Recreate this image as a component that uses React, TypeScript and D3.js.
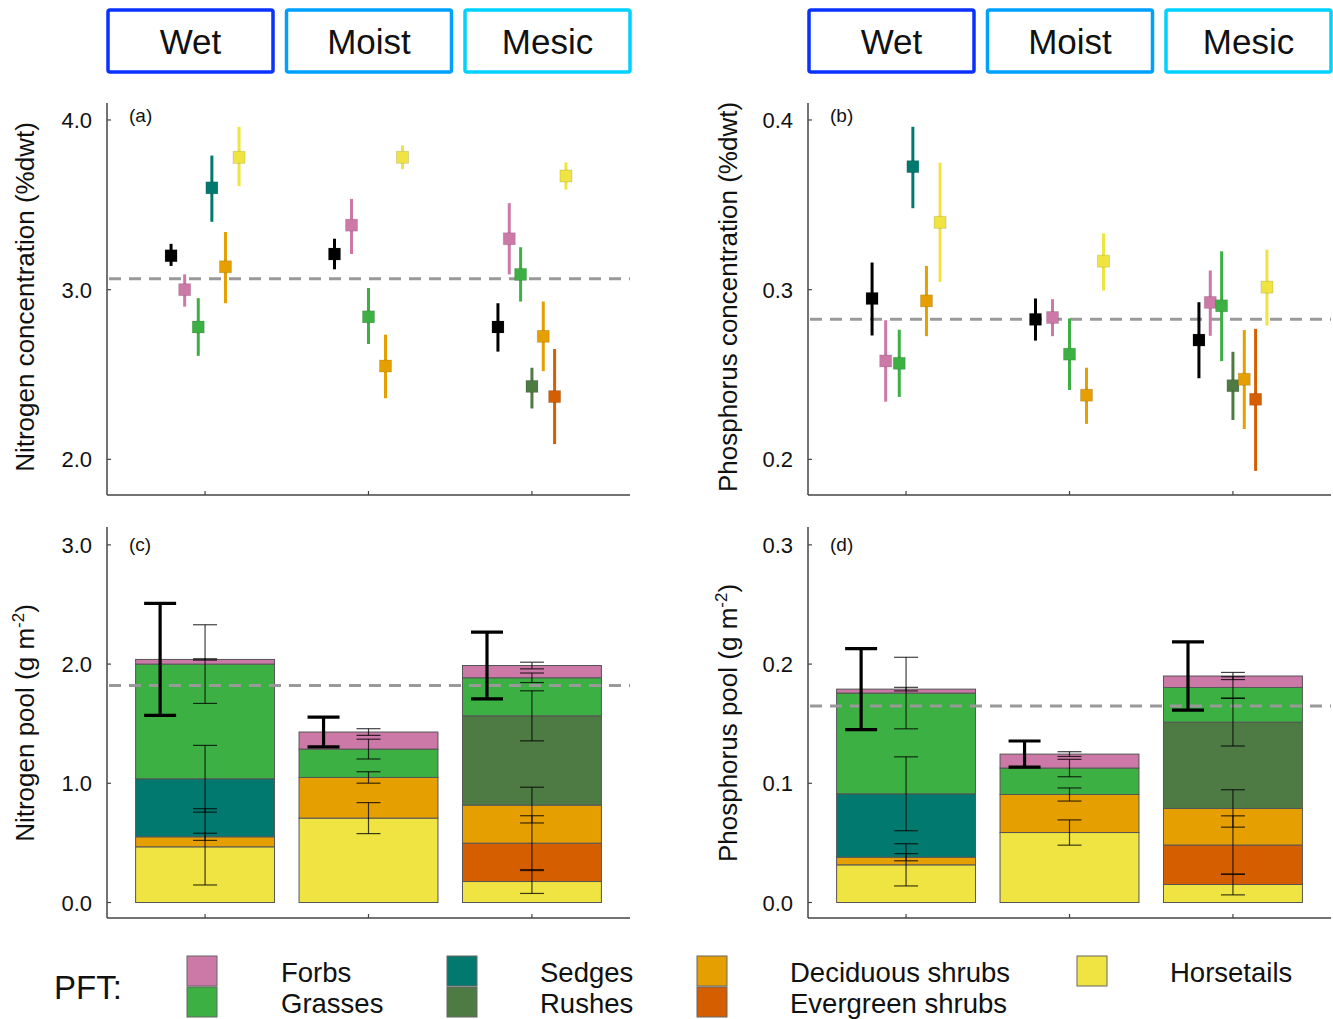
import React, { useRef, useEffect } from 'react';
import * as d3 from 'd3';

// sites and plant functional types
const sites = ['Wet', 'Moist', 'Mesic'];
const siteColors = ['#0a32ff', '#00a0ff', '#00d2ff'];

const pftColors: Record<string, string> = {
  Mean: '#000000',
  Forbs: '#cc79a7',
  Grasses: '#3cb043',
  Sedges: '#02796e',
  Rushes: '#4e7a44',
  'Deciduous shrubs': '#e69f00',
  'Evergreen shrubs': '#d55e00',
  Horsetails: '#f0e442',
};

// concentrations: [pft, mean, lower, upper]
const nConcWet = [
  ['Mean', 3.2, 3.14, 3.27],
  ['Forbs', 3.0, 2.9, 3.09],
  ['Grasses', 2.78, 2.61, 2.95],
  ['Sedges', 3.6, 3.4, 3.79],
  ['Deciduous shrubs', 3.135, 2.92, 3.34],
  ['Horsetails', 3.78, 3.61, 3.96],
];
const nConcMoist = [
  ['Mean', 3.21, 3.12, 3.3],
  ['Forbs', 3.38, 3.21, 3.535],
  ['Grasses', 2.84, 2.68, 3.01],
  ['Deciduous shrubs', 2.55, 2.36, 2.735],
  ['Horsetails', 3.78, 3.71, 3.85],
];
const nConcMesic = [
  ['Mean', 2.78, 2.635, 2.92],
  ['Forbs', 3.3, 3.09, 3.51],
  ['Grasses', 3.09, 2.93, 3.25],
  ['Rushes', 2.43, 2.3, 2.54],
  ['Deciduous shrubs', 2.725, 2.52, 2.93],
  ['Evergreen shrubs', 2.37, 2.09, 2.65],
  ['Horsetails', 3.67, 3.59, 3.75],
];
const nConcRef = 3.065;

const pConcWet = [
  ['Mean', 0.2948, 0.273, 0.316],
  ['Forbs', 0.258, 0.234, 0.282],
  ['Grasses', 0.2566, 0.2368, 0.2764],
  ['Sedges', 0.3725, 0.348, 0.396],
  ['Deciduous shrubs', 0.2934, 0.2726, 0.314],
  ['Horsetails', 0.3397, 0.3046, 0.3748],
];
const pConcMoist = [
  ['Mean', 0.2825, 0.27, 0.2948],
  ['Forbs', 0.2836, 0.2726, 0.2944],
  ['Grasses', 0.262, 0.2409, 0.283],
  ['Deciduous shrubs', 0.2378, 0.2209, 0.254],
  ['Horsetails', 0.3168, 0.2995, 0.3332],
];
const pConcMesic = [
  ['Mean', 0.2703, 0.2478, 0.2926],
  ['Forbs', 0.2925, 0.2728, 0.3113],
  ['Grasses', 0.2905, 0.2579, 0.3226],
  ['Rushes', 0.2434, 0.2232, 0.2634],
  ['Deciduous shrubs', 0.2472, 0.2179, 0.2762],
  ['Evergreen shrubs', 0.2354, 0.1932, 0.2769],
  ['Horsetails', 0.3015, 0.2789, 0.3236],
];
const pConcRef = 0.2825;

// pools, stacked bottom -> top in this key order
const stackKeys = ['Horsetails', 'Evergreen shrubs', 'Deciduous shrubs', 'Sedges', 'Rushes', 'Grasses', 'Forbs'];

const nPoolWet = [0.467, 0, 0.084, 0.487, 0, 0.962, 0.039];
const nPoolMoist = [0.708, 0, 0.341, 0, 0, 0.238, 0.143];
const nPoolMesic = [0.176, 0.322, 0.319, 0, 0.749, 0.319, 0.103];
const nPoolWetSE = [0.32, 0, 0.03, 0.28, 0, 0.33, 0.006];
const nPoolMoistSE = [0.13, 0, 0.048, 0, 0, 0.083, 0.028];
const nPoolMesicSE = [0.1, 0.23, 0.15, 0, 0.21, 0.04, 0.028];
const nPoolTotalSE = [0.47, 0.125, 0.28];
const nPoolRef = 1.82;

const pPoolWet = [0.0316, 0, 0.0064, 0.0532, 0, 0.0845, 0.0033];
const pPoolMoist = [0.0587, 0, 0.0319, 0, 0, 0.0222, 0.0117];
const pPoolMesic = [0.0151, 0.0331, 0.0307, 0, 0.0724, 0.0291, 0.0096];
const pPoolWetSE = [0.0177, 0, 0.003, 0.031, 0, 0.03, 0.0015];
const pPoolMoistSE = [0.0106, 0, 0.0055, 0, 0, 0.0073, 0.002];
const pPoolMesicSE = [0.0087, 0.0245, 0.0157, 0, 0.02, 0.009, 0.003];
const pPoolTotalSE = [0.034, 0.011, 0.0287];
const pPoolRef = 0.1648;

const legendCols = [['Forbs', 'Grasses'], ['Sedges', 'Rushes'], ['Deciduous shrubs', 'Evergreen shrubs'], ['Horsetails']];

const FONT = '"Liberation Sans", Arial, Helvetica, sans-serif';

const App = () => {
  const ref = useRef<SVGSVGElement>(null);

  useEffect(() => {
    if (!ref.current) return;
    const svg = d3.select(ref.current);
    svg.selectAll('*').remove();
    svg.style('font-family', FONT);

    const drawAxes = (g: any, x: any, y: any, ticks: number[], fmt: string) => {
      const [x0, x1] = x.range();
      const [yb, yt] = y.range();
      g.append('line').attr('x1', x0).attr('x2', x0).attr('y1', yt).attr('y2', yb)
        .attr('stroke', '#444').attr('stroke-width', 1.5);
      g.append('line').attr('x1', x0).attr('x2', x1).attr('y1', yb).attr('y2', yb)
        .attr('stroke', '#444').attr('stroke-width', 1.5);
      ticks.forEach(t => {
        g.append('line').attr('x1', x0).attr('x2', x0 + 4).attr('y1', y(t)).attr('y2', y(t))
          .attr('stroke', '#444').attr('stroke-width', 1.2);
        g.append('text').attr('x', x0 - 15).attr('y', y(t) + 8).attr('text-anchor', 'end')
          .attr('font-size', 22).attr('fill', '#111').text(d3.format(fmt)(t));
      });
      [1, 2, 3].forEach(s => {
        g.append('line').attr('x1', x(s)).attr('x2', x(s)).attr('y1', yb).attr('y2', yb - 4)
          .attr('stroke', '#444').attr('stroke-width', 1.2);
      });
    };

    const refLine = (g: any, x: any, y: any, v: number) => {
      g.append('line').attr('x1', x.range()[0] + 2).attr('x2', x.range()[1]).attr('y1', y(v)).attr('y2', y(v))
        .attr('stroke', '#999').attr('stroke-width', 3).attr('stroke-dasharray', '12,8');
    };

    const yTitle = (g: any, cx: number, cy: number, main: string, sup?: string) => {
      const t = g.append('text').attr('transform', `translate(${cx},${cy}) rotate(-90)`)
        .attr('text-anchor', 'middle').attr('font-size', 26).attr('fill', '#111');
      t.append('tspan').text(main);
      if (sup) {
        t.append('tspan').attr('font-size', 17).attr('dy', -10).text(sup);
        t.append('tspan').attr('dy', 10).text(')');
      }
    };

    const siteBoxes = (x0: number) => {
      sites.forEach((s, i) => {
        const bx = x0 + 1 + i * 178.5;
        svg.append('rect').attr('x', bx).attr('y', 10).attr('width', 165).attr('height', 62).attr('rx', 2)
          .attr('fill', 'none').attr('stroke', siteColors[i]).attr('stroke-width', 3.5);
        svg.append('text').attr('x', bx + 82.5).attr('y', 54).attr('text-anchor', 'middle')
          .attr('font-size', 35).attr('fill', '#111').text(s);
      });
    };

    const concPanel = (x0: number, dom: number[], groups: any[][], refV: number, ticks: number[], tag: string, title: string, titleX: number) => {
      const g = svg.append('g');
      const x = d3.scaleLinear().domain([0.4, 3.6]).range([x0, x0 + 523]);
      const y = d3.scaleLinear().domain(dom).range([495, 103]);
      drawAxes(g, x, y, ticks, '.1f');
      refLine(g, x, y, refV);
      groups.forEach((rows, gi) => {
        const n = rows.length;
        const off = d3.scaleLinear().domain([0, n - 1]).range([-0.208, 0.208]);
        rows.forEach((r, i) => {
          const cx = x(gi + 1 + off(i));
          const col = pftColors[r[0]];
          g.append('line').attr('x1', cx).attr('x2', cx).attr('y1', y(r[2])).attr('y2', y(r[3]))
            .attr('stroke', col).attr('stroke-width', 3);
          g.append('rect').attr('x', cx - 6).attr('y', y(r[1]) - 6).attr('width', 12).attr('height', 12)
            .attr('fill', col).attr('stroke', 'rgba(0,0,0,0.12)').attr('stroke-width', 1);
        });
      });
      g.append('text').attr('x', x0 + 22).attr('y', 122).attr('font-size', 19).attr('fill', '#111').text(tag);
      yTitle(g, titleX, 297, title);
    };

    const poolPanel = (x0: number, dom: number[], vals: number[][], ses: number[][], totSE: number[], refV: number, ticks: number[], tag: string, title: string, titleX: number) => {
      const g = svg.append('g');
      const x = d3.scaleLinear().domain([0.4, 3.6]).range([x0, x0 + 523]);
      const y = d3.scaleLinear().domain(dom).range([918, 527]);
      drawAxes(g, x, y, ticks, '.1f');
      const rows = vals.map(v => Object.fromEntries(stackKeys.map((k, j) => [k, v[j]])));
      const series = d3.stack().keys(stackKeys)(rows as any);
      const bw = 0.85;
      series.forEach(s => {
        s.forEach((d, i) => {
          if (d[1] - d[0] <= 0) return;
          g.append('rect').attr('x', x(i + 1 - bw / 2)).attr('width', x(bw) - x(0))
            .attr('y', y(d[1])).attr('height', y(d[0]) - y(d[1]))
            .attr('fill', pftColors[s.key]).attr('stroke', '#555').attr('stroke-width', 1);
        });
      });
      refLine(g, x, y, refV);
      // per-PFT error bars at the cumulative tops
      series.forEach((s, k) => {
        s.forEach((d, i) => {
          if (d[1] - d[0] <= 0) return;
          const se = ses[i][k];
          const cx = x(i + 1);
          const eb = g.append('g').attr('stroke', 'rgba(0,0,0,0.75)').attr('stroke-width', 1.2);
          eb.append('line').attr('x1', cx).attr('x2', cx).attr('y1', y(d[1] - se)).attr('y2', y(d[1] + se));
          [d[1] - se, d[1] + se].forEach(v => {
            eb.append('line').attr('x1', cx - 12).attr('x2', cx + 12).attr('y1', y(v)).attr('y2', y(v));
          });
        });
      });
      // total error bars
      vals.forEach((v, i) => {
        const tot = d3.sum(v);
        const cx = x(i + 1 - 0.275);
        const eb = g.append('g').attr('stroke', '#000').attr('stroke-width', 3.2);
        eb.append('line').attr('x1', cx).attr('x2', cx).attr('y1', y(tot - totSE[i])).attr('y2', y(tot + totSE[i]));
        [tot - totSE[i], tot + totSE[i]].forEach(t => {
          eb.append('line').attr('x1', cx - 16).attr('x2', cx + 16).attr('y1', y(t)).attr('y2', y(t));
        });
      });
      g.append('text').attr('x', x0 + 22).attr('y', 551).attr('font-size', 19).attr('fill', '#111').text(tag);
      yTitle(g, titleX, 723, title, '-2');
    };

    siteBoxes(107);
    siteBoxes(808);

    concPanel(107, [1.79, 4.1], [nConcWet, nConcMoist, nConcMesic], nConcRef, [2, 3, 4], '(a)', 'Nitrogen concentration (%dwt)', 34);
    concPanel(808, [0.179, 0.41], [pConcWet, pConcMoist, pConcMesic], pConcRef, [0.2, 0.3, 0.4], '(b)', 'Phosphorus concentration (%dwt)', 737);
    poolPanel(107, [-0.13, 3.15], [nPoolWet, nPoolMoist, nPoolMesic], [nPoolWetSE, nPoolMoistSE, nPoolMesicSE], nPoolTotalSE, nPoolRef, [0, 1, 2, 3], '(c)', 'Nitrogen pool (g m', 34);
    poolPanel(808, [-0.013, 0.315], [pPoolWet, pPoolMoist, pPoolMesic], [pPoolWetSE, pPoolMoistSE, pPoolMesicSE], pPoolTotalSE, pPoolRef, [0, 0.1, 0.2, 0.3], '(d)', 'Phosphorus pool (g m', 737);

    // PFT legend
    const lg = svg.append('g');
    lg.append('text').attr('x', 54).attr('y', 999).attr('font-size', 33).attr('fill', '#111').text('PFT:');
    const colX = [187, 447, 697, 1077];
    const textX = [281, 540, 790, 1170];
    legendCols.forEach((col, ci) => {
      col.forEach((name, ri) => {
        lg.append('rect').attr('x', colX[ci]).attr('y', 956 + ri * 31).attr('width', 30).attr('height', 30)
          .attr('fill', pftColors[name]).attr('stroke', '#666').attr('stroke-width', 1);
        lg.append('text').attr('x', textX[ci]).attr('y', 982 + ri * 31).attr('font-size', 27.5)
          .attr('fill', '#111').text(name);
      });
    });
  }, []);

  return (
    <svg ref={ref} width={1333} height={1019} style={{ position: 'absolute', left: 0, top: 0, background: '#fff' }} />
  );
};

export default App;
